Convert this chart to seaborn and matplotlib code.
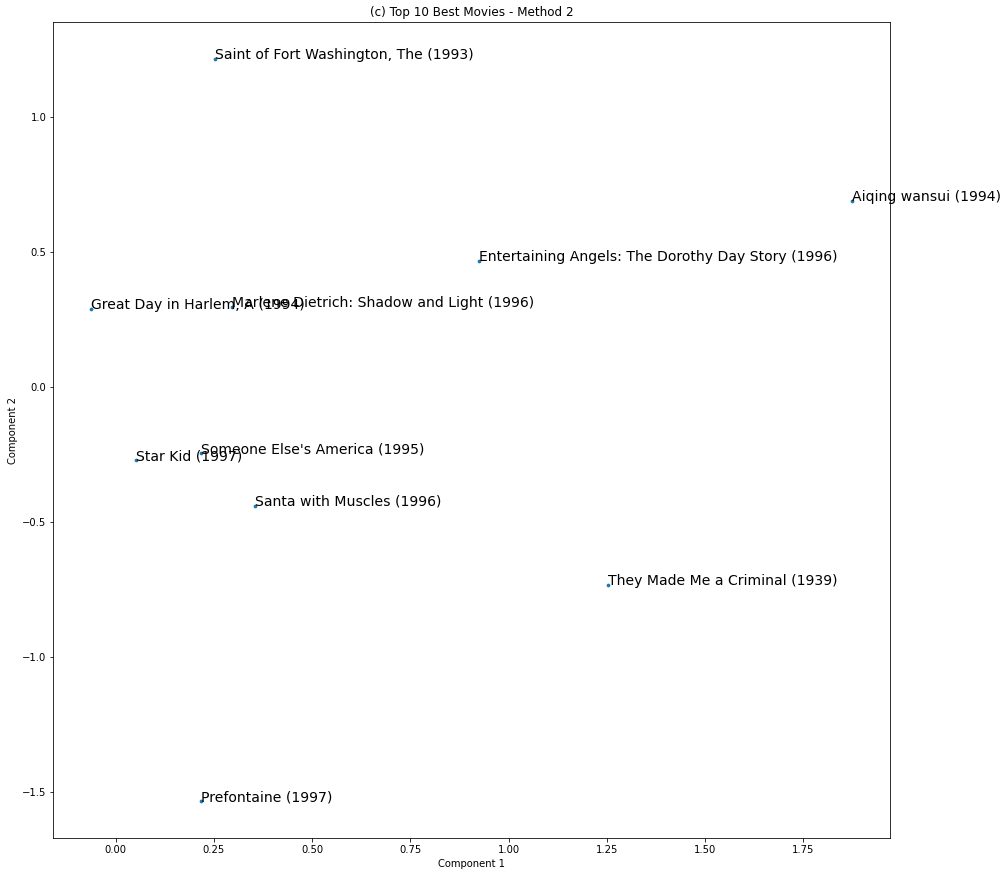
import numpy as np
import matplotlib
matplotlib.use("Agg")
import matplotlib.pyplot as plt
import pandas as pd
import seaborn as sns

titles = [
    "Saint of Fort Washington, The (1993)",
    "Aiqing wansui (1994)",
    "Entertaining Angels: The Dorothy Day Story (1996)",
    "Great Day in Harlem, A (1994)",
    "Marlene Dietrich: Shadow and Light (1996)",
    "Someone Else's America (1995)",
    "Star Kid (1997)",
    "Santa with Muscles (1996)",
    "They Made Me a Criminal (1939)",
    "Prefontaine (1997)",
]
comp1 = [0.254, 1.875, 0.925, -0.062, 0.296, 0.218, 0.052, 0.355, 1.253, 0.218]
comp2 = [1.215, 0.691, 0.467, 0.288, 0.296, -0.246, -0.271, -0.441, -0.735, -1.536]

df = pd.DataFrame({"title": titles, "Component 1": comp1, "Component 2": comp2})

fig, ax = plt.subplots(figsize=(1007 / 72, 876 / 72), dpi=72)
fig.subplots_adjust(left=53.3 / 1007, right=890.3 / 1007, top=1 - 22.3 / 876, bottom=1 - 838.3 / 876)

sns.scatterplot(data=df, x="Component 1", y="Component 2", s=14, linewidth=0, color="#1f77b4", ax=ax)
for i, row in df.iterrows():
    ax.text(row["Component 1"], row["Component 2"], row["title"], fontsize=14)

ax.set_title("(c) Top 10 Best Movies - Method 2", fontsize=12)
ax.set_xlabel("Component 1")
ax.set_ylabel("Component 2")

fig.savefig("out.png", dpi=72)
